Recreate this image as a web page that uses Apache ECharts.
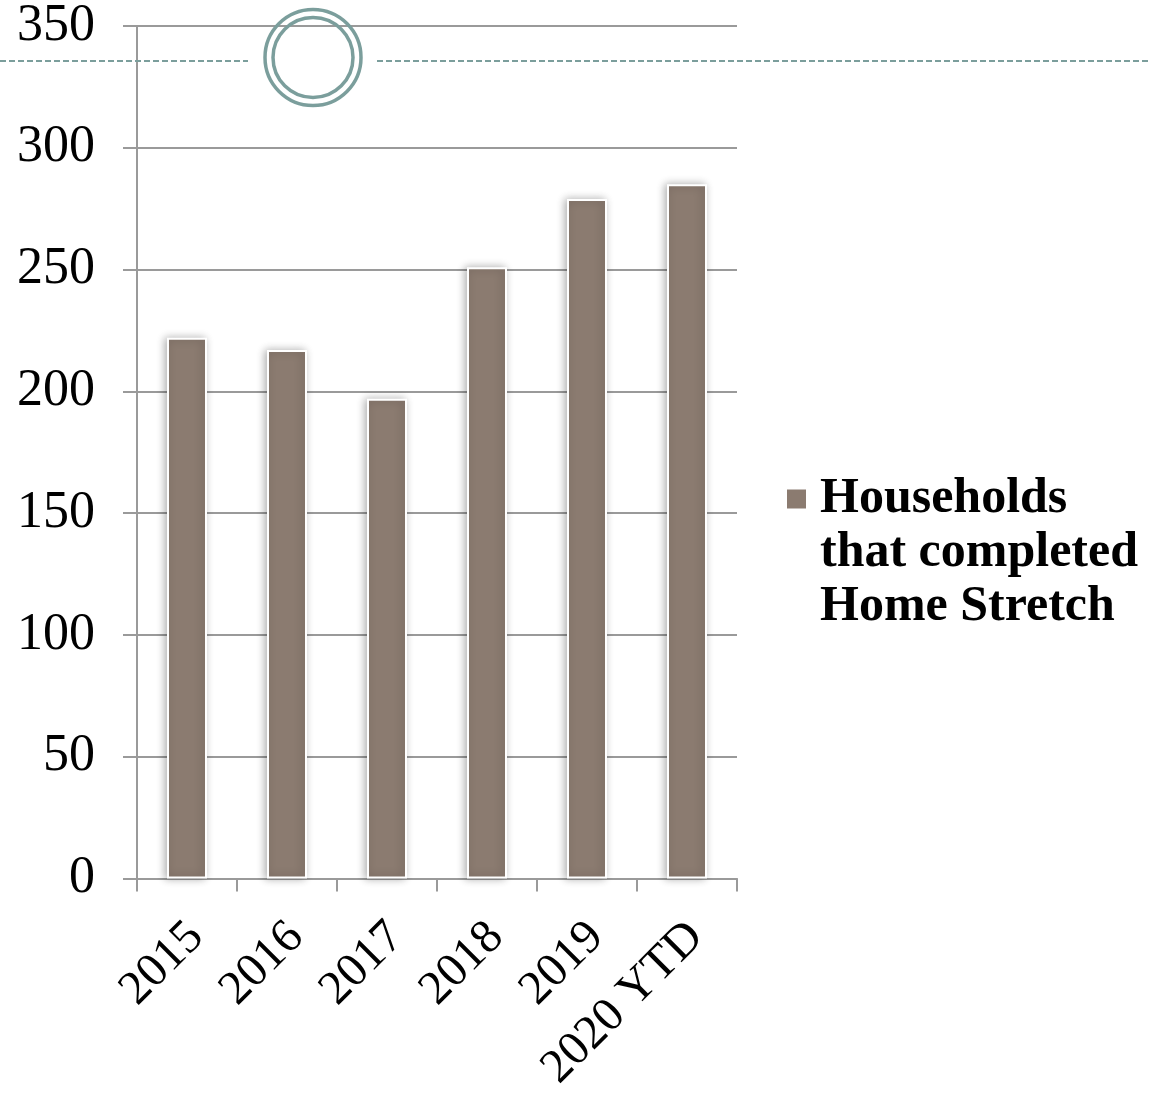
<!DOCTYPE html>
<html>
<head>
<meta charset="utf-8">
<script src="https://cdn.jsdelivr.net/npm/echarts@6/dist/echarts.min.js"></script>
<style>
  html, body { margin: 0; padding: 0; background: #fff; }
  #chart { width: 1151px; height: 1095px; }
</style>
</head>
<body>
<div id="chart"></div>
<script>
// Completed households per year
const years = ['2015', '2016', '2017', '2018', '2019', '2020 YTD'];
const households = [222, 217, 197, 251, 279, 285];
const seriesName = 'Households that completed Home Stretch';
const legendLines = ['Households', 'that completed', 'Home Stretch'];

const FONT = '"Liberation Serif", "DejaVu Serif", serif';
const GRID_GRAY = '#9a9a9a';
const ACCENT = '#7b9e9c';

// Legend marker: a square sitting at the first text line of a 3-line block.
// The tiny end segments stretch the icon's bounding box to the block size,
// which also leaves a small gap between the square and the text.
const LEGEND_LINE_H = 54;
const LEGEND_BLOCK_H = LEGEND_LINE_H * legendLines.length;
const LEGEND_ICON_W = 29;
const legendIcon = 'path://M0,0L0.01,0' +
  'M0,16.5L21,16.5L21,37.5L0,37.5Z' +
  'M' + LEGEND_ICON_W + ',' + LEGEND_BLOCK_H + 'L' + (LEGEND_ICON_W - 0.01) + ',' + LEGEND_BLOCK_H;

const chart = echarts.init(document.getElementById('chart'), null, { renderer: 'canvas' });

chart.setOption({
  animation: false,
  backgroundColor: '#ffffff',
  grid: { left: 137, right: 414, top: 25, bottom: 215, containLabel: false },
  xAxis: {
    type: 'category',
    data: years,
    axisLine: { show: true, lineStyle: { color: GRID_GRAY, width: 2 } },
    axisTick: { show: true, length: 13, lineStyle: { color: GRID_GRAY, width: 2 } },
    axisLabel: {
      rotate: 45,
      margin: 42,
      color: '#000',
      fontFamily: FONT,
      fontSize: 48,
      verticalAlign: 'top',
      lineHeight: 26
    }
  },
  yAxis: {
    type: 'value',
    min: 0,
    max: 350,
    interval: 50,
    axisLine: { show: true, lineStyle: { color: GRID_GRAY, width: 2 } },
    axisTick: { show: true, length: 14, lineStyle: { color: GRID_GRAY, width: 2 } },
    splitLine: { show: true, lineStyle: { color: GRID_GRAY, width: 2 } },
    axisLabel: {
      margin: 42,
      color: '#000',
      fontFamily: FONT,
      fontSize: 52
    }
  },
  legend: {
    orient: 'vertical',
    left: 785,
    top: 471,
    padding: 0,
    itemWidth: LEGEND_ICON_W,
    itemHeight: LEGEND_BLOCK_H,
    itemGap: 14,
    icon: legendIcon,
    data: [seriesName],
    formatter: () => legendLines.join('\n'),
    textStyle: {
      color: '#000',
      fontFamily: FONT,
      fontSize: 50,
      fontWeight: 'bold',
      lineHeight: LEGEND_LINE_H
    }
  },
  series: [{
    name: seriesName,
    type: 'bar',
    data: households,
    barWidth: 40,
    itemStyle: {
      color: '#8b7b70',
      borderColor: '#ffffff',
      borderWidth: 2,
      shadowBlur: 8,
      shadowColor: 'rgba(0,0,0,0.3)',
      shadowOffsetX: -2,
      shadowOffsetY: 0
    }
  }],
  graphic: [
    {
      type: 'line',
      shape: { x1: 0, y1: 61, x2: 248, y2: 61 },
      style: { stroke: ACCENT, lineWidth: 2, lineDash: [6, 3] },
      z: 10
    },
    {
      type: 'line',
      shape: { x1: 377, y1: 61, x2: 1151, y2: 61 },
      style: { stroke: ACCENT, lineWidth: 2, lineDash: [6, 3] },
      z: 10
    },
    {
      type: 'circle',
      shape: { cx: 313, cy: 57.5, r: 48 },
      style: { fill: 'none', stroke: ACCENT, lineWidth: 3.5 },
      z: 10
    },
    {
      type: 'circle',
      shape: { cx: 313, cy: 57.5, r: 40 },
      style: { fill: 'none', stroke: ACCENT, lineWidth: 3.5 },
      z: 10
    }
  ]
});
</script>
</body>
</html>
